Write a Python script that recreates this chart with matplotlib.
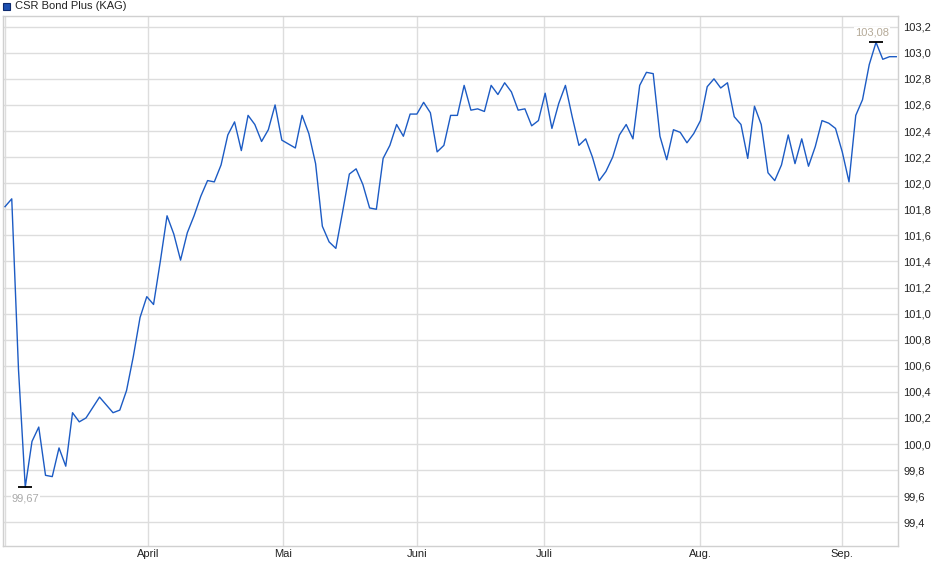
import matplotlib.pyplot as plt
import numpy as np
from matplotlib.patches import Rectangle

plt.rcParams['font.family'] = ['Liberation Sans', 'DejaVu Sans']

kurs = [101.82, 101.88, 100.57, 99.67, 100.02, 100.13, 99.76, 99.75, 99.97, 99.83,
        100.24, 100.17, 100.20, 100.28, 100.36, 100.30, 100.24, 100.26, 100.41, 100.67,
        100.97, 101.13, 101.07, 101.40, 101.75, 101.61, 101.41, 101.62, 101.75, 101.90,
        102.02, 102.01, 102.14, 102.37, 102.47, 102.25, 102.52, 102.45, 102.32, 102.41,
        102.60, 102.33, 102.30, 102.27, 102.52, 102.38, 102.15, 101.67, 101.55, 101.50,
        101.78, 102.07, 102.11, 101.99, 101.81, 101.80, 102.19, 102.29, 102.45, 102.36,
        102.53, 102.53, 102.62, 102.54, 102.24, 102.29, 102.52, 102.52, 102.75, 102.56,
        102.57, 102.55, 102.75, 102.68, 102.77, 102.70, 102.56, 102.57, 102.44, 102.48,
        102.69, 102.42, 102.61, 102.75, 102.51, 102.29, 102.34, 102.20, 102.02, 102.09,
        102.20, 102.37, 102.45, 102.34, 102.75, 102.85, 102.84, 102.36, 102.18, 102.41,
        102.39, 102.31, 102.38, 102.48, 102.74, 102.80, 102.73, 102.77, 102.51, 102.45,
        102.19, 102.59, 102.45, 102.08, 102.02, 102.14, 102.37, 102.15, 102.34, 102.13,
        102.28, 102.48, 102.46, 102.42, 102.24, 102.01, 102.52, 102.64, 102.91, 103.08,
        102.95, 102.97, 102.97]

monate = ['April', 'Mai', 'Juni', 'Juli', 'Aug.', 'Sep.']
monat_pos = [21.2, 41.2, 61.0, 79.9, 103.0, 123.9]
y_ticks = np.round(np.arange(99.4, 103.21, 0.2), 1)

x = np.arange(len(kurs))
kurs = np.array(kurs)

fig = plt.figure(figsize=(9.4, 5.79), dpi=100)
ax = fig.add_axes([2.7 / 940, 33 / 579, 895.6 / 940, 530 / 579])

ax.plot(x, kurs, color='#1c5bc4', lw=1.0, zorder=3)

ax.set_xlim(-0.34, 132.3)
ax.set_ylim(99.218, 103.282)

ax.set_xticks([0] + monat_pos)
ax.set_xticklabels([''] + monate)
ax.set_yticks(y_ticks)
ax.set_yticklabels([f"{v:.1f}".replace('.', ',') for v in y_ticks])
ax.yaxis.tick_right()
ax.tick_params(axis='y', length=0, pad=3.5, labelsize=8, colors='#222222')
ax.tick_params(axis='x', length=0, pad=2, labelsize=8, colors='#222222')
ax.grid(True, color='#dddddd', lw=1.0)
ax.set_axisbelow(True)
for s in ax.spines.values():
    s.set_color('#d0d0d0')
    s.set_linewidth(1.0)

# Minimum / Maximum markieren
i_min = int(np.argmin(kurs))
i_max = int(np.argmax(kurs))
ax.plot(x[i_min], kurs[i_min], marker='_', ms=10, mew=1.3, color='black', zorder=4)
ax.plot(x[i_max], kurs[i_max], marker='_', ms=10, mew=1.3, color='black', zorder=4)
ax.annotate(f"{kurs[i_min]:.2f}".replace('.', ','), (x[i_min], kurs[i_min]),
            xytext=(0, -8), textcoords='offset points', ha='center', va='center',
            fontsize=8, color='#aaaaaa',
            bbox=dict(facecolor='white', edgecolor='none', pad=0.5))
ax.annotate(f"{kurs[i_max]:.2f}".replace('.', ','), (x[i_max], kurs[i_max]),
            xytext=(-3, 7), textcoords='offset points', ha='center', va='center',
            fontsize=8, color='#b5aa98',
            bbox=dict(facecolor='white', edgecolor='none', pad=0.5))

# Legende oben links
fig.patches.append(Rectangle((3.3 / 940, 1 - 9.5 / 579), 6.7 / 940, 6.5 / 579,
                             transform=fig.transFigure, facecolor='#1c4fb0',
                             edgecolor='#0d2a6e', lw=0.8))
fig.text(15 / 940, 1 - 6 / 579, 'CSR Bond Plus (KAG)', va='center', fontsize=8,
         color='#222222')

fig.savefig('out.png', dpi=100)
